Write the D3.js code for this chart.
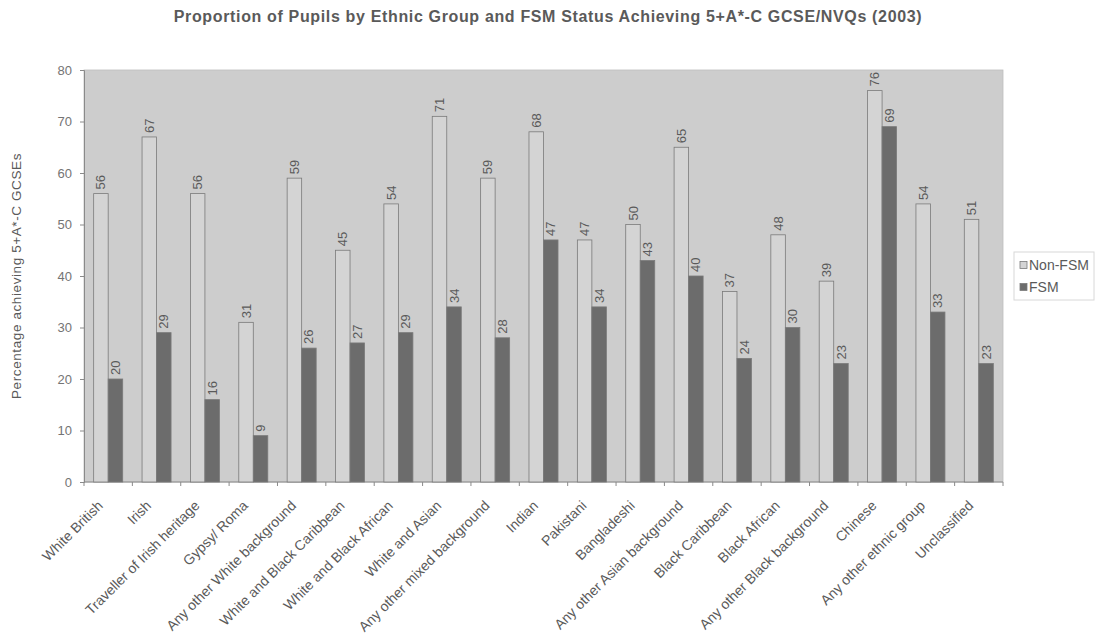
<!DOCTYPE html>
<html>
<head>
<meta charset="utf-8">
<script src="https://cdn.jsdelivr.net/npm/d3@7/dist/d3.min.js"></script>
<style>
  html, body { margin: 0; padding: 0; background: #ffffff; }
  svg { display: block; font-family: "Liberation Sans", Arial, sans-serif; }
</style>
</head>
<body>
<svg id="chart" width="1098" height="640"></svg>
<script>
// Ethnic groups, in chart order
const categories = [
  "White British", "Irish", "Traveller of Irish heritage", "Gypsy/ Roma",
  "Any other White background", "White and Black Caribbean", "White and Black African",
  "White and Asian", "Any other mixed background", "Indian", "Pakistani",
  "Bangladeshi", "Any other Asian background", "Black Caribbean", "Black African",
  "Any other Black background", "Chinese", "Any other ethnic group", "Unclassified"
];
// Percentage achieving 5+ A*-C GCSEs
const nonFsm = [56, 67, 56, 31, 59, 45, 54, 71, 59, 68, 47, 50, 65, 37, 48, 39, 76, 54, 51];
const fsm    = [20, 29, 16,  9, 26, 27, 29, 34, 28, 47, 34, 43, 40, 24, 30, 23, 69, 33, 23];
const seriesNames = ["Non-FSM", "FSM"];
const yTicks = [0, 10, 20, 30, 40, 50, 60, 70, 80];

const svg = d3.select("#chart");
const plot = { left: 84, right: 1003, top: 70, bottom: 482 };

const x = d3.scaleBand().domain(categories).range([plot.left, plot.right]).paddingInner(0).paddingOuter(0);
const inner = d3.scaleBand().domain(seriesNames).range([x.bandwidth() * 0.2, x.bandwidth() * 0.8]).padding(0);
const y = d3.scaleLinear().domain([0, 80]).range([plot.bottom, plot.top]);

const fills = { "Non-FSM": "#d4d4d4", "FSM": "#6c6c6c" };
const textCol = "#5a5a5a";

// Title
svg.append("text")
  .attr("x", 548).attr("y", 22)
  .attr("text-anchor", "middle")
  .attr("font-size", 16).attr("font-weight", "bold")
  .attr("letter-spacing", 0.65)
  .attr("fill", textCol)
  .text("Proportion of Pupils by Ethnic Group and FSM Status Achieving 5+A*-C GCSE/NVQs (2003)");

// Plot background
svg.append("rect")
  .attr("x", plot.left).attr("y", plot.top)
  .attr("width", plot.right - plot.left).attr("height", plot.bottom - plot.top)
  .attr("fill", "#cdcdcd").attr("stroke", "#bdbdbd").attr("stroke-width", 0.8);

// Y axis
const yAxis = svg.append("g")
  .attr("transform", `translate(${plot.left},0)`)
  .call(d3.axisLeft(y).tickValues(yTicks).tickSize(4).tickPadding(8));
yAxis.select(".domain").attr("stroke", "#8a8a8a");
yAxis.selectAll(".tick line").attr("stroke", "#8a8a8a");
yAxis.selectAll(".tick text").attr("font-size", 13).attr("fill", "#747474")
  .attr("font-family", "Liberation Sans, Arial, sans-serif");

svg.append("text")
  .attr("transform", `translate(21,${(plot.top + plot.bottom) / 2}) rotate(-90)`)
  .attr("text-anchor", "middle")
  .attr("font-size", 13.5).attr("letter-spacing", 0.6).attr("fill", textCol)
  .text("Percentage achieving 5+A*-C GCSEs");

// X axis with ticks at category boundaries
const xAxisG = svg.append("g").attr("transform", `translate(0,${plot.bottom})`);
xAxisG.append("line")
  .attr("x1", plot.left).attr("x2", plot.right)
  .attr("stroke", "#8a8a8a");
xAxisG.selectAll("line.tk")
  .data(categories.concat(["__end"]))
  .join("line")
  .attr("class", "tk")
  .attr("x1", (d, i) => plot.left + i * x.step())
  .attr("x2", (d, i) => plot.left + i * x.step())
  .attr("y1", 0).attr("y2", 4)
  .attr("stroke", "#8a8a8a");

svg.append("g").selectAll("text")
  .data(categories)
  .join("text")
  .attr("transform", d => `translate(${x(d) + x.bandwidth() / 2 - 8},${plot.bottom + 21}) rotate(-45)`)
  .attr("text-anchor", "end")
  .attr("dy", "0.35em")
  .attr("font-size", 14).attr("fill", textCol)
  .text(d => d);

// Bars
const rows = categories.map((c, i) => ({ cat: c, values: [
  { s: "Non-FSM", v: nonFsm[i] }, { s: "FSM", v: fsm[i] }
]}));

const groups = svg.append("g").selectAll("g")
  .data(rows).join("g")
  .attr("transform", d => `translate(${x(d.cat)},0)`);

groups.selectAll("rect")
  .data(d => d.values).join("rect")
  .attr("x", d => inner(d.s))
  .attr("y", d => y(d.v))
  .attr("width", inner.bandwidth())
  .attr("height", d => y(0) - y(d.v))
  .attr("fill", d => fills[d.s])
  .attr("stroke", "#7a7a7a").attr("stroke-width", 0.8);

groups.selectAll("text")
  .data(d => d.values).join("text")
  .attr("transform", d => `translate(${inner(d.s) + inner.bandwidth() / 2},${y(d.v) - 4}) rotate(-90)`)
  .attr("text-anchor", "start")
  .attr("dy", "0.35em")
  .attr("font-size", 13).attr("fill", textCol)
  .text(d => d.v);

// Legend
const lg = svg.append("g").attr("transform", "translate(1014,252)");
lg.append("rect").attr("width", 80).attr("height", 48)
  .attr("fill", "#ffffff").attr("stroke", "#d8d8d8");
seriesNames.forEach((s, i) => {
  const row = lg.append("g").attr("transform", `translate(6,${13 + i * 22})`);
  row.append("rect").attr("x", 0).attr("y", -3.5).attr("width", 7).attr("height", 7)
    .attr("fill", fills[s]).attr("stroke", "#7a7a7a").attr("stroke-width", 0.8);
  row.append("text").attr("x", 9).attr("dy", "0.35em")
    .attr("font-size", 14).attr("fill", textCol).text(s);
});
</script>
</body>
</html>
